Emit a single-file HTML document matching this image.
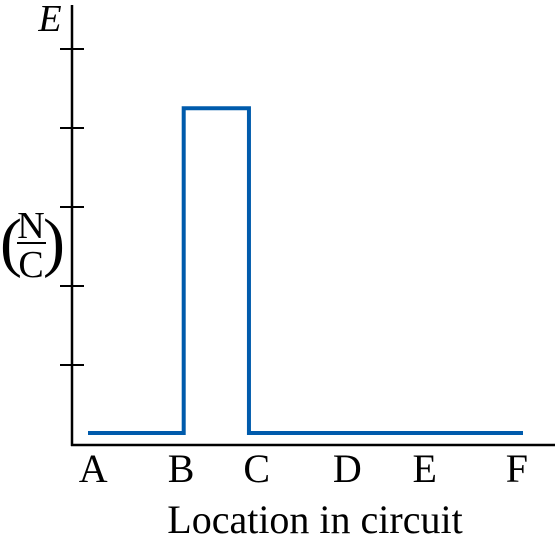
<!DOCTYPE html>
<html><head><meta charset="utf-8"><style>
html,body{margin:0;padding:0;background:#fff;}
svg{display:block;font-family:"Liberation Serif",serif;}
</style></head><body>
<svg id="chart" width="555" height="543" viewBox="0 0 555 543">
<line x1="72" y1="5" x2="72" y2="446" stroke="#000" stroke-width="2.5"/>
<line x1="71" y1="445" x2="555" y2="445" stroke="#000" stroke-width="2.5"/>
<text x="50" y="31" font-size="38" font-style="italic" text-anchor="middle">E</text>
<g>
<text x="0" y="264" font-size="66" font-weight="300">(</text>
<text x="31" y="238" font-size="38" text-anchor="middle">N</text>
<line x1="17" y1="243" x2="46" y2="243" stroke="#000" stroke-width="2"/>
<text x="31" y="277" font-size="38" text-anchor="middle">C</text>
<text x="43" y="264" font-size="66" font-weight="300">)</text>
</g>
<text x="315" y="533" font-size="40" text-anchor="middle">Location in circuit</text>
<g id="ticks"></g><g id="xlabels"></g>
<path id="series" fill="none" stroke="#005bac" stroke-width="4"/>
</svg>
<script>
const yTicks=[1,2,3,4,5];
const categories=["A","B","C","D","E","F"];
const categoryPos=[0.06,1.07,1.94,2.98,3.87,4.93];
const seriesX=[0,1.1,1.1,1.85,1.85,5];
const seriesY=[0.14,0.14,4.25,4.25,0.14,0.14];
const xs=v=>88+v*87, ys=v=>444-v*79;
const ns="http://www.w3.org/2000/svg";
const tg=document.getElementById('ticks');
yTicks.forEach(t=>{const l=document.createElementNS(ns,'line');


l.setAttribute('x1',60);l.setAttribute('x2',84);l.setAttribute('y1',ys(t));l.setAttribute('y2',ys(t));
l.setAttribute('stroke','#000');l.setAttribute('stroke-width','2');tg.appendChild(l);});
const xg=document.getElementById('xlabels');
categories.forEach((c,i)=>{const t=document.createElementNS(ns,'text');


t.setAttribute('x',xs(categoryPos[i]));t.setAttribute('y',482);t.setAttribute('font-size','40');
t.setAttribute('text-anchor','middle');t.textContent=c;xg.appendChild(t);});
document.getElementById('series').setAttribute('d',seriesX.map((x,i)=>(i?'L':'M')+xs(x)+' '+ys(seriesY[i])).join(' '));
</script>
</body></html>
